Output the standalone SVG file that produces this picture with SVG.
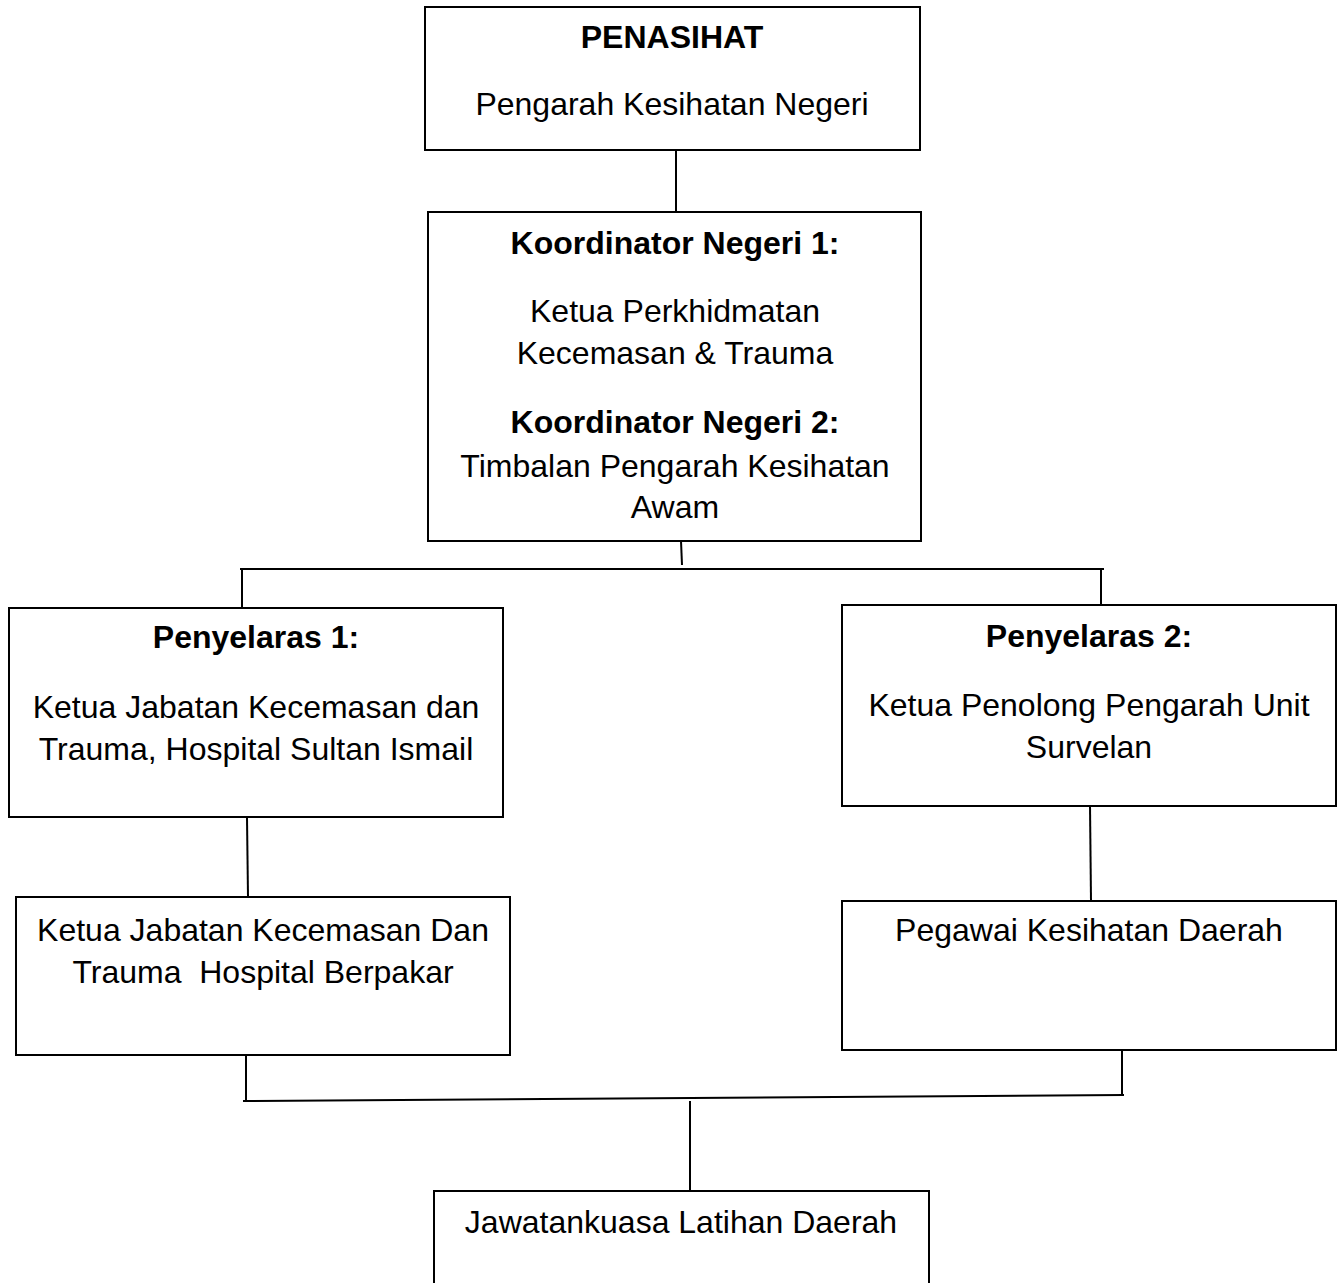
<svg xmlns="http://www.w3.org/2000/svg" width="1344" height="1283" viewBox="0 0 1344 1283">
<style>
.box{fill:#fff;stroke:#000;stroke-width:2}
.ln{stroke:#000;stroke-width:2;fill:none}
text{font-family:"Liberation Sans",Arial,sans-serif;font-size:32px;fill:#000;text-anchor:middle}
.b{font-weight:bold}
</style>
<rect width="1344" height="1283" fill="#fff"/>
<g id="connectors">
<line class="ln" x1="676" y1="150" x2="676" y2="212"/>
<line class="ln" x1="681" y1="541" x2="682" y2="565"/>
<line class="ln" x1="240" y1="569" x2="1104" y2="569"/>
<line class="ln" x1="242" y1="569" x2="242" y2="608"/>
<line class="ln" x1="1101" y1="569" x2="1101" y2="605"/>
<line class="ln" x1="247" y1="818" x2="248" y2="897"/>
<line class="ln" x1="1090" y1="806" x2="1091" y2="901"/>
<line class="ln" x1="246" y1="1056" x2="246" y2="1101"/>
<line class="ln" x1="1122" y1="1050" x2="1122" y2="1095"/>
<line class="ln" x1="243" y1="1101" x2="1124" y2="1095"/>
<line class="ln" x1="690" y1="1101" x2="690" y2="1191"/>
</g>
<g id="penasihat">
<rect class="box" x="425" y="7" width="495" height="143"/>
<text class="b" x="672" y="48">PENASIHAT</text>
<text x="672" y="115">Pengarah Kesihatan Negeri</text>
</g>
<g id="koordinator">
<rect class="box" x="428" y="212" width="493" height="329"/>
<text class="b" x="675" y="254">Koordinator Negeri 1:</text>
<text x="675" y="322">Ketua Perkhidmatan</text>
<text x="675" y="364">Kecemasan &amp; Trauma</text>
<text class="b" x="675" y="433">Koordinator Negeri 2:</text>
<text x="675" y="477">Timbalan Pengarah Kesihatan</text>
<text x="675" y="518">Awam</text>
</g>
<g id="penyelaras1">
<rect class="box" x="9" y="608" width="494" height="209"/>
<text class="b" x="256" y="648">Penyelaras 1:</text>
<text x="256" y="718">Ketua Jabatan Kecemasan dan</text>
<text x="256" y="760">Trauma, Hospital Sultan Ismail</text>
</g>
<g id="penyelaras2">
<rect class="box" x="842" y="605" width="494" height="201"/>
<text class="b" x="1089" y="647">Penyelaras 2:</text>
<text x="1089" y="716">Ketua Penolong Pengarah Unit</text>
<text x="1089" y="758">Survelan</text>
</g>
<g id="ketua-berpakar">
<rect class="box" x="16" y="897" width="494" height="158"/>
<text x="263" y="941" xml:space="preserve">Ketua Jabatan Kecemasan Dan</text>
<text x="263" y="983" xml:space="preserve">Trauma  Hospital Berpakar</text>
</g>
<g id="pegawai">
<rect class="box" x="842" y="901" width="494" height="149"/>
<text x="1089" y="941">Pegawai Kesihatan Daerah</text>
</g>
<g id="jawatankuasa">
<rect class="box" x="434" y="1191" width="495" height="110"/>
<text x="681" y="1233">Jawatankuasa Latihan Daerah</text>
</g>
</svg>
